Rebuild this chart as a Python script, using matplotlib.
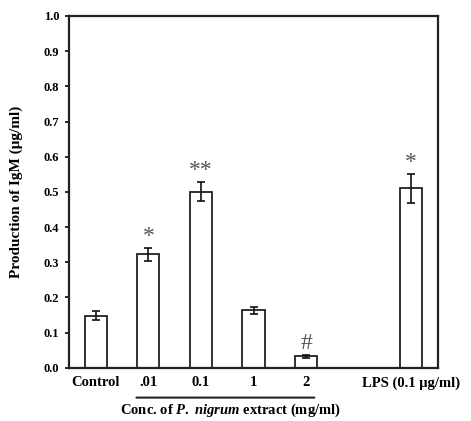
import numpy as np
import matplotlib.pyplot as plt

# IgM production
groups = ["Control", ".01", "0.1", "1", "2", "LPS (0.1 \u03bcg/ml)"]
positions = [0, 1, 2, 3, 4, 6]
igm = [0.148, 0.322, 0.500, 0.163, 0.033, 0.510]
igm_err = [0.012, 0.019, 0.027, 0.009, 0.004, 0.041]
marks = ["", "*", "**", "", "#", "*"]
yticks = [0.0, 0.1, 0.2, 0.3, 0.4, 0.5, 0.6, 0.7, 0.8, 0.9, 1.0]

plt.rcParams["font.family"] = ["Liberation Serif", "DejaVu Serif"]
plt.rcParams["mathtext.fontset"] = "custom"
plt.rcParams["mathtext.it"] = "Liberation Serif:italic:bold"
plt.rcParams["mathtext.rm"] = "Liberation Serif:bold"

fig = plt.figure(figsize=(4.71, 4.21), dpi=100)
ax = fig.add_axes([0.1465, 0.1266, 0.7835, 0.8354])

ax.bar(positions, igm, width=0.42, color="white", edgecolor="#222222",
       linewidth=1.3, yerr=igm_err, capsize=3,
       error_kw=dict(ecolor="#111111", elinewidth=1.2, capthick=1.2))

for x, v, e, m in zip(positions, igm, igm_err, marks):
    if m:
        ax.text(x, v + e + 0.003, m, ha="center", va="bottom",
                fontsize=17, color="#555555")

ax.set_xlim(-0.51, 6.51)
ax.set_ylim(0, 1.0)
ax.set_yticks(yticks)
ax.set_yticklabels([f"{t:.1f}" for t in yticks], fontsize=9, fontweight="bold")
ax.set_xticks(positions)
ax.set_xticklabels(groups, fontsize=10.5, fontweight="bold")
ax.tick_params(axis="x", length=0, pad=6)
ax.tick_params(axis="y", direction="out", length=3, width=1.2, pad=4)
for s in ax.spines.values():
    s.set_linewidth(1.6)
    s.set_color("#222222")

ax.set_ylabel("Production of IgM (\u03bcg/ml)", fontsize=11,
              fontweight="bold", labelpad=15)

# underline spanning the extract concentrations
ax.annotate("", xy=(0.72, -0.085), xytext=(4.21, -0.085),
            xycoords=("data", "axes fraction"),
            arrowprops=dict(arrowstyle="-", lw=1.5, color="#222222"),
            annotation_clip=False)
ax.text(2.57, -0.122, "Conc. of $P.$ $nigrum$ extract (mg/ml)",
        transform=ax.get_xaxis_transform(), ha="center", va="center",
        fontsize=10.5, fontweight="bold")

fig.savefig("out.png", dpi=100)
